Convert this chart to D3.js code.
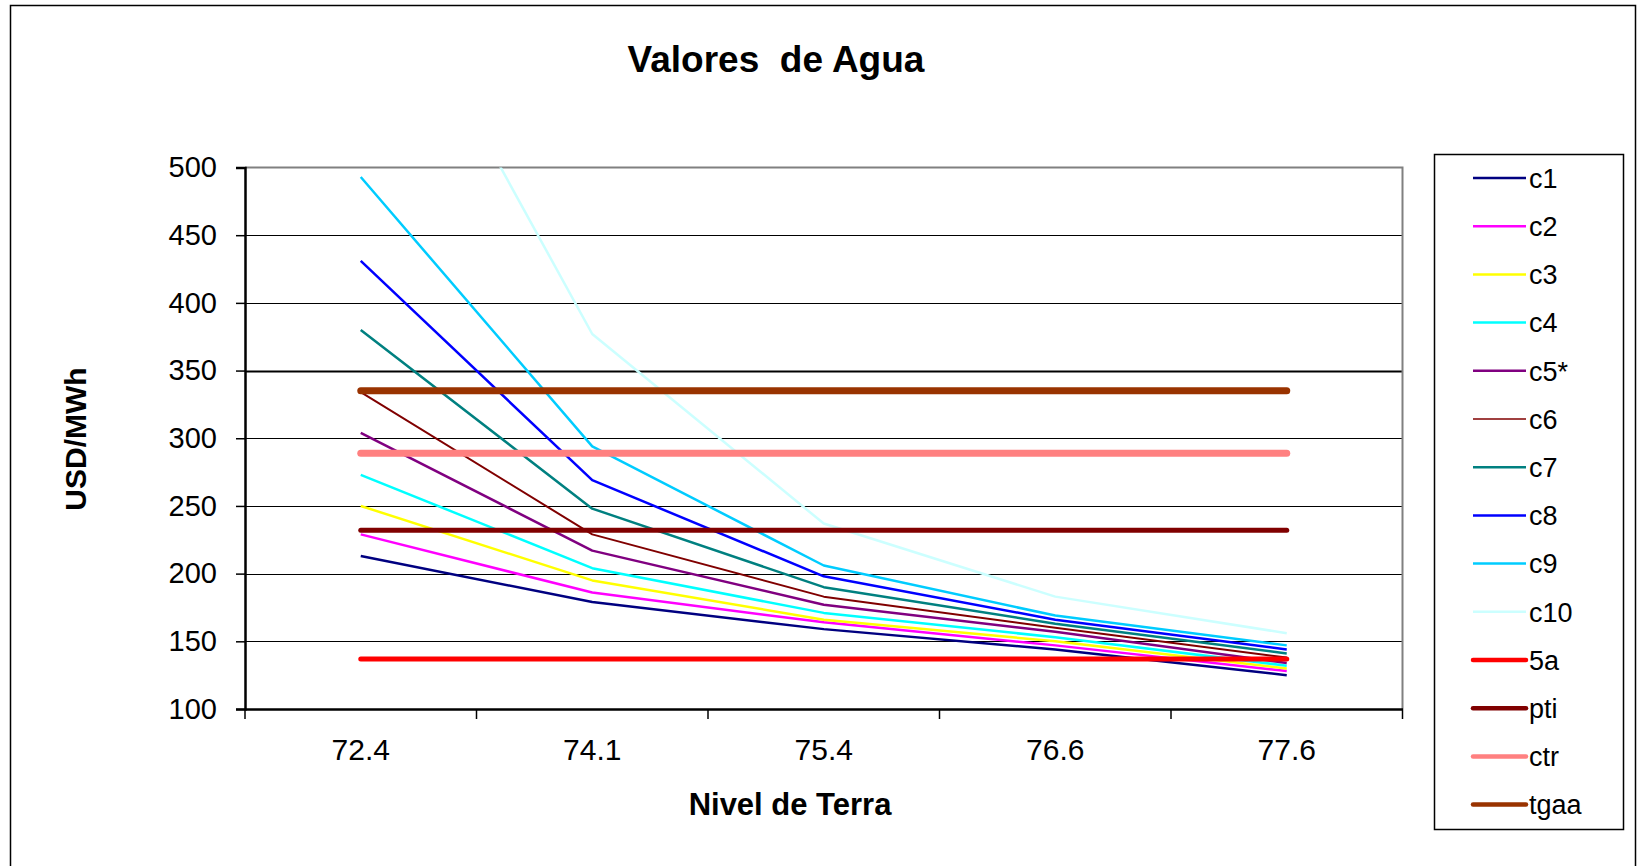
<!DOCTYPE html>
<html>
<head>
<meta charset="utf-8">
<script src="https://cdn.jsdelivr.net/npm/d3@7"></script>
<style>
  body { margin: 0; background: #fff; }
  svg { display: block; font-family: "Liberation Sans", Arial, sans-serif; }
</style>
</head>
<body>
<svg width="1641" height="866"></svg>
<script>
// categories on the x axis
const niveles = ["72.4", "74.1", "75.4", "76.6", "77.6"];
const yTicks = [100, 150, 200, 250, 300, 350, 400, 450, 500];

// series values (USD/MWh)
const c1  = [213, 179, 159, 144, 125];
const c2  = [229, 186, 164, 147, 128];
const c3  = [250, 195, 166, 150, 130];
const c4  = [273, 204, 171, 153, 132];
const c5  = [304, 217, 177, 157, 134];
const c6  = [334, 229, 183, 160, 138];
const c7  = [380, 248, 190, 163, 141];
const c8  = [431, 269, 198, 166, 144];
const c9  = [493, 294, 206, 169, 147];
const c10 = [688, 377, 237, 183, 156];
const s5a  = [137, 137, 137, 137, 137];
const pti  = [232, 232, 232, 232, 232];
const ctr  = [289, 289, 289, 289, 289];
const tgaa = [335, 335, 335, 335, 335];

const series = [
    {name: "c1",  values: c1,  color: "#000080", w: 2.5},
    {name: "c2",  values: c2,  color: "#FF00FF", w: 2.5},
    {name: "c3",  values: c3,  color: "#FFFF00", w: 2.5},
    {name: "c4",  values: c4,  color: "#00FFFF", w: 2.5},
    {name: "c5*", values: c5,  color: "#800080", w: 2.5},
    {name: "c6",  values: c6,  color: "#800000", w: 2},
    {name: "c7",  values: c7,  color: "#008080", w: 2.5},
    {name: "c8",  values: c8,  color: "#0000FF", w: 2.5},
    {name: "c9",  values: c9,  color: "#00CCFF", w: 2.5},
    {name: "c10", values: c10, color: "#CCFFFF", w: 2.5},
    {name: "5a",  values: s5a, color: "#FF0000", w: 5},
    {name: "pti", values: pti, color: "#800000", w: 5},
    {name: "ctr", values: ctr, color: "#FF8080", w: 7},
    {name: "tgaa", values: tgaa, color: "#993300", w: 7}
];

let svg = d3.select("svg");

margin = {top: 167.5, left: 245, right: 1402.5, bottom: 709};

// outer frame
svg.append("path")
    .attr("d", "M10.5,900 V5.5 H1635.5 V900")
    .attr("fill", "none")
    .attr("stroke", "#000")
    .attr("stroke-width", 1.5);

svg.append("text")
    .attr("x", 776)
    .attr("y", 72)
    .attr("font-size", "37px")
    .attr("font-weight", "bold")
    .attr("xml:space", "preserve")
    .style("text-anchor", "middle")
    .text("Valores  de Agua");

let xScale = d3.scaleBand().domain(niveles).range([margin.left, margin.right]).padding(0);
let yScale = d3.scaleLinear().domain([100, 500]).range([margin.bottom, margin.top]);

// gridlines
svg.append("g")
    .selectAll("line")
    .data(yTicks.filter(d => d > 100 && d < 500))
    .enter().append("line")
    .attr("x1", margin.left)
    .attr("x2", margin.right)
    .attr("y1", d => Math.round(yScale(d)) + 0.5)
    .attr("y2", d => Math.round(yScale(d)) + 0.5)
    .attr("stroke", "#000")
    .attr("stroke-width", d => d === 350 ? 2 : 1);

// plot top and right borders
svg.append("path")
    .attr("d", "M" + margin.left + "," + margin.top + " H" + margin.right + " V" + margin.bottom)
    .attr("fill", "none")
    .attr("stroke", "#808080")
    .attr("stroke-width", 2);

// y axis
let yAxis = svg.append("g")
    .attr("transform", "translate(" + margin.left + ",0)")
    .call(d3.axisLeft(yScale).tickValues(yTicks).tickSize(9).tickPadding(19));
yAxis.select(".domain").attr("stroke-width", 2.5);
yAxis.selectAll(".tick line").attr("stroke-width", 1.5);
yAxis.selectAll("text").attr("font-size", "29px").attr("fill", "#000").attr("font-family", null);

// x axis with ticks between categories
let xAxis = svg.append("g")
    .attr("transform", "translate(0," + margin.bottom + ")")
    .call(d3.axisBottom(xScale).tickSize(0).tickPadding(30).tickSizeOuter(0));
xAxis.select(".domain").attr("stroke-width", 2.5);
xAxis.selectAll("text").attr("font-size", "30px").attr("fill", "#000").attr("font-family", null);

let edges = niveles.map(d => xScale(d)).concat([margin.right]);
svg.append("g")
    .selectAll("line")
    .data(edges)
    .enter().append("line")
    .attr("x1", d => d).attr("x2", d => d)
    .attr("y1", margin.bottom).attr("y2", margin.bottom + 10)
    .attr("stroke", "#000")
    .attr("stroke-width", 1.5);

svg.append("text")
    .attr("x", 790)
    .attr("y", 815)
    .attr("font-size", "31px")
    .attr("font-weight", "bold")
    .style("text-anchor", "middle")
    .text("Nivel de Terra");

svg.append("text")
    .attr("transform", "translate(86,439) rotate(-90)")
    .attr("font-size", "30px")
    .attr("font-weight", "bold")
    .style("text-anchor", "middle")
    .text("USD/MWh");

// series
svg.append("clipPath").attr("id", "plotClip")
    .append("rect")
    .attr("x", margin.left).attr("y", margin.top)
    .attr("width", margin.right - margin.left)
    .attr("height", margin.bottom - margin.top);

let line = d3.line()
    .x((d, i) => xScale(niveles[i]) + xScale.bandwidth() / 2)
    .y(d => yScale(d));

svg.append("g")
    .attr("clip-path", "url(#plotClip)")
    .selectAll("path")
    .data(series)
    .enter().append("path")
    .attr("d", d => line(d.values))
    .attr("fill", "none")
    .attr("stroke", d => d.color)
    .attr("stroke-width", d => d.w)
    .attr("stroke-linecap", d => d.w > 3 ? "round" : "butt")
    .attr("stroke-linejoin", "round");

// legend
svg.append("rect")
    .attr("x", 1434.5).attr("y", 154.5)
    .attr("width", 189).attr("height", 675)
    .attr("fill", "#fff")
    .attr("stroke", "#000")
    .attr("stroke-width", 1.5);

let legend = svg.append("g")
    .selectAll("g")
    .data(series)
    .enter().append("g")
    .attr("transform", (d, i) => "translate(0," + (178 + i * 48.2) + ")");

legend.append("line")
    .attr("x1", 1473).attr("x2", 1526)
    .attr("y1", 0).attr("y2", 0)
    .attr("stroke", d => d.color)
    .attr("stroke-width", d => d.w > 3 ? 4.5 : (d.name === "c6" ? 1.5 : 2.5))
    .attr("stroke-linecap", d => d.w > 3 ? "round" : "butt");

legend.append("text")
    .attr("x", 1529)
    .attr("y", 0)
    .attr("dy", "0.36em")
    .attr("font-size", "27px")
    .text(d => d.name);
</script>
</body>
</html>
